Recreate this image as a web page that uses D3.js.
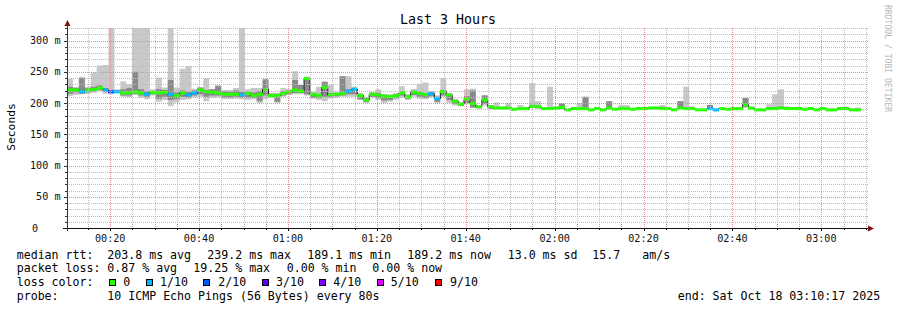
<!DOCTYPE html>
<html><head><meta charset="utf-8">
<script src="https://cdn.jsdelivr.net/npm/d3@7"></script>
<style>
html,body{margin:0;padding:0;background:#fff;}
svg{display:block;font-family:"DejaVu Sans Mono",monospace;}
text{white-space:pre;}
</style></head><body>
<svg id="chart" width="897" height="310"></svg>
<script>
// ---- data (ms), one entry per 80 s step ----
const median=[221,221,218,221,222,224,221,218,218,216,
 216,218,216,214,217,216,217,214,212,216,
 213,216,221,218,217,216,214,214,214,213,
 215,212,214,222,212,212,215,218,221,219,
 239,214,212,225,213,214,215,219,222,212,
 205,214,213,211,210,212,216,210,217,215,
 213,215,207,218,213,203,198,206,199,194,
 205,194,192,192,192,190,191,191,195,194,
 191,191,192,193,189,191,191,191,189,191,
 189,192,190,191,191,190,191,191,192,192,
 191,191,189,192,191,191,189,189,191,189,
 191,190,191,191,197,192,189,189,191,191,
 192,191,191,191,190,191,189,191,189,189,
 191,191,189,189];
const lossIdx=[0,0,1,0,0,0,1,2,1,0,
 0,0,0,1,0,0,0,1,0,0,
 1,1,0,0,0,0,0,0,0,1,
 0,0,0,0,0,0,0,0,0,0,
 0,0,0,0,0,0,0,1,1,0,
 0,0,0,0,0,0,0,0,0,0,
 0,1,1,0,0,0,0,0,0,0,
 0,0,0,0,0,0,0,0,0,0,
 0,0,0,0,0,0,0,0,0,0,
 0,0,0,0,0,0,0,0,0,0,
 0,0,0,0,0,0,0,0,1,1,
 0,0,0,0,0,0,0,0,0,0,
 0,0,0,0,0,0,0,0,0,0,
 0,0,0,0];
const pingMax=[239,226,242,226,249,260,261,320,222,235,
 230,320,320,320,222,241,225,320,225,255,
 259,223,225,240,222,229,221,221,224,320,
 222,224,224,229,216,216,224,222,251,229,
 242,218,226,234,229,218,243,243,226,216,
 210,218,222,215,214,216,227,214,222,231,
 233,219,212,240,216,207,202,222,223,196,
 213,196,201,194,200,192,197,193,232,203,
 193,226,194,200,191,193,200,210,191,193,
 191,203,192,197,197,192,193,193,194,194,
 197,193,191,203,226,195,191,191,197,191,
 193,192,193,193,208,194,191,191,198,214,
 222,195,193,194,192,193,191,193,191,191,
 194,194,191,193];
const pingMin=[211,213,214,215,216,219,215,214,216,210,
 209,213,208,206,212,202,205,195,201,205,
 206,209,210,203,208,209,206,206,207,206,
 205,206,200,206,208,200,210,213,214,214,
 212,207,205,203,207,208,210,210,210,205,
 200,208,205,200,202,205,208,205,210,207,
 206,209,200,210,200,196,195,199,192,191,
 196,190,190,190,190,188,189,189,192,191,
 189,189,190,190,188,189,189,189,188,189,
 188,190,189,189,189,188,189,189,190,190,
 189,189,188,190,189,189,188,188,189,188,
 189,189,189,189,192,190,188,188,189,189,
 190,189,189,189,189,189,188,189,188,188,
 189,189,188,188];
const midHi=[226,224,240,224,226,228,224,221,220,222,
 224,250,222,219,219,222,221,237,217,220,
 218,220,225,221,222,227,219,218,220,218,
 218,217,219,238,215,215,219,221,237,229,
 241,216,215,234,216,216,243,222,224,215,
 208,216,216,213,212,214,219,212,220,218,
 216,218,210,221,215,205,200,211,220,195,
 212,195,193,193,193,191,192,192,197,195,
 192,192,193,199,190,192,192,210,190,192,
 190,203,191,192,192,191,192,192,193,193,
 192,192,190,203,193,192,190,190,197,190,
 192,191,192,192,208,193,190,190,192,193,
 194,192,192,192,191,192,190,192,190,190,
 192,192,190,190];
const midLo=[215,217,215,217,219,221,218,216,217,212,
 212,215,212,210,214,207,210,205,206,210,
 209,212,214,210,212,212,209,209,210,209,
 209,208,203,212,210,202,212,215,216,216,
 214,209,208,210,210,211,212,214,214,206,
 202,210,208,204,205,208,212,207,213,210,
 208,211,202,212,205,199,196,200,193,192,
 199,191,191,191,191,189,190,190,193,192,
 190,190,191,191,188,190,190,190,188,190,
 188,191,189,190,190,189,190,190,191,191,
 190,190,188,191,190,190,188,188,190,188,
 190,189,190,190,194,191,188,188,190,190,
 191,190,190,190,189,190,188,190,188,188,
 190,190,188,188];
const yTicks=[0,50,100,150,200,250,300];
const yTickLabels=["0","50 m","100 m","150 m","200 m","250 m","300 m"];
const lossColors=["#26ff00","#00b8ff","#0059ff","#5e00ff","#7e00ff","#dd00ff","#ff0000"];
const lossLabels=["0","1/10","2/10","3/10","4/10","5/10","9/10"];
const stepSec=80;
const startTime=new Date(Date.UTC(2025,9,18,0,10,17));
const endTime=new Date(Date.UTC(2025,9,18,3,10,17));

const legendRtt=[["median rtt:",16.7],["203.8 ms avg",107.3],["239.2 ms max",207.3],["189.1 ms min",307.3],["189.2 ms now",407.3],["13.0 ms sd",507.7],["15.7",592.3],["am/s",642.3]];
const legendLoss=[["packet loss:",16.7],["0.87 % avg",107.3],["19.25 % max",193.3],["0.00 % min",286.7],["0.00 % now",372.3]];
const lossBoxX=[109,146,203.3,261.7,319,376.7,435];
const lossTextX=[123.3,160,218.3,276,333.3,390.7,450];

// ---- drawing ----
const W=897,H=310, L=67, R=867, T=28, B=228;
const svg=d3.select("#chart");
svg.append("rect").attr("width",W).attr("height",H).attr("fill","#fff");
const x=d3.scaleUtc().domain([startTime,endTime]).range([L,R]);
const y=d3.scaleLinear().domain([0,320]).range([B,T]);
const n=median.length;
const xs=i=>x(new Date(startTime.getTime()+i*stepSec*1000));
const idx=d3.range(n+1);
const at=(a,i)=>a[Math.min(i,n-1)];

svg.append("defs").append("clipPath").attr("id","plot")
  .append("rect").attr("x",L).attr("y",T).attr("width",R-L).attr("height",B-T);
const g=svg.append("g").attr("clip-path","url(#plot)");

const band=(hi,lo)=>d3.area().curve(d3.curveStepAfter)
  .x(i=>xs(i)).y0(i=>y(at(lo,i))).y1(i=>y(Math.min(320,at(hi,i))));
g.append("path").datum(idx).attr("d",band(pingMax,pingMin)).attr("fill","#c8c8c8");
g.append("path").datum(idx).attr("d",band(midHi,midLo)).attr("fill","#8a8a8a");

g.append("path").datum(idx)
  .attr("d",d3.line().curve(d3.curveStepAfter).x(i=>xs(i)).y(i=>y(at(median,i))))
  .attr("fill","none").attr("stroke","#202020").attr("stroke-width",1);
g.selectAll("rect.med").data(median).enter().append("rect").attr("class","med")
  .attr("x",(d,i)=>Math.round(xs(i)))
  .attr("width",(d,i)=>Math.round(xs(i+1))-Math.round(xs(i)))
  .attr("y",d=>y(d)-1.5).attr("height",3)
  .attr("fill",(d,i)=>lossColors[lossIdx[i]]);

// grid (drawn over data, like rrdtool): dotted lines built from 1x1 pixel squares
const grid=svg.append("g").attr("shape-rendering","crispEdges");
const minorY=d3.range(10,321,10).filter(v=>v%50!==0);
const majorY=yTicks.filter(v=>v>0);
const allX=d3.utcMinute.every(5).range(startTime,endTime);
const minorX=allX.filter(t=>t.getUTCMinutes()%20!==0);
const majorX=allX.filter(t=>t.getUTCMinutes()%20===0);
const py=v=>Math.round(y(v)), pxr=t=>Math.round(x(t));
function hdots(v){const yy=py(v);return d3.range(L,R+1,2).map(xx=>`M${xx},${yy}h1v1h-1z`).join("");}
function vdots(t){const xx=pxr(t);return d3.range(T,B,2).map(yy=>`M${xx},${yy}h1v1h-1z`).join("");}
grid.append("path").attr("d",minorY.map(hdots).join("")+minorX.map(vdots).join("")).attr("fill","#bdbdbd");
grid.append("path").attr("d",majorY.map(hdots).join("")+majorX.map(vdots).join("")).attr("fill","#f08a8a");

// axes
const ax=svg.append("g").attr("shape-rendering","crispEdges");
ax.append("line").attr("x1",63).attr("x2",869).attr("y1",B+0.5).attr("y2",B+0.5).attr("stroke","#111");
ax.append("line").attr("x1",L+0.5).attr("x2",L+0.5).attr("y1",B+3).attr("y2",23).attr("stroke","#333");
majorX.forEach(t=>ax.append("line").attr("x1",pxr(t)+0.5).attr("x2",pxr(t)+0.5).attr("y1",B).attr("y2",B+3).attr("stroke","#111"));
minorX.forEach(t=>ax.append("line").attr("x1",pxr(t)+0.5).attr("x2",pxr(t)+0.5).attr("y1",B).attr("y2",B+2).attr("stroke","#111"));
majorY.forEach(v=>ax.append("line").attr("x1",L-3).attr("x2",L).attr("y1",py(v)+0.5).attr("y2",py(v)+0.5).attr("stroke","#333"));
minorY.forEach(v=>ax.append("line").attr("x1",L-2).attr("x2",L).attr("y1",py(v)+0.5).attr("y2",py(v)+0.5).attr("stroke","#333"));
svg.append("path").attr("d",`M${L-2.5},26 L${L+3.5},26 L${L+0.5},20 Z`).attr("fill","#7f1212");
svg.append("path").attr("d",`M868,225.5 L868,231.5 L874,228.5 Z`).attr("fill","#7f1212");

// tick labels
svg.append("g").selectAll("text").data(yTicks).enter().append("text")
  .attr("x",(d,i)=>d===0?32:60.5).attr("y",d=>y(d)+3.6)
  .attr("text-anchor",d=>d===0?"start":"end")
  .attr("font-size","10.15px").attr("fill","#111")
  .text((d,i)=>yTickLabels[i]);
svg.append("g").selectAll("text").data(majorX).enter().append("text")
  .attr("x",t=>x(t)).attr("y",241.8).attr("text-anchor","middle")
  .attr("font-size","10.15px").attr("fill","#111")
  .text(d3.utcFormat("%H:%M"));

// titles
svg.append("text").attr("x",448).attr("y",23.5).attr("text-anchor","middle")
  .attr("font-size","13.3px").attr("fill","#000").text("Last 3 Hours");
svg.append("text").attr("transform","translate(15,127) rotate(-90)").attr("text-anchor","middle")
  .attr("font-size","11.3px").attr("fill","#000").text("Seconds");
svg.append("text").attr("transform","translate(885,5) rotate(90)")
  .attr("font-size","8.1px").attr("fill","#b8b8b8").text("RRDTOOL / TOBI OETIKER");

// legend
const lg=svg.append("g").attr("font-size","11.6px").attr("fill","#000");
legendRtt.forEach(([s,xx])=>lg.append("text").attr("x",xx).attr("y",258.5).text(s));
legendLoss.forEach(([s,xx])=>lg.append("text").attr("x",xx).attr("y",272).text(s));
lg.append("text").attr("x",16.7).attr("y",286).text("loss color:");
lossColors.forEach((c,i)=>{
  lg.append("rect").attr("x",Math.round(lossBoxX[i])+0.5).attr("y",279.5).attr("width",6).attr("height",6)
    .attr("fill",c).attr("stroke","#000").attr("stroke-width",1);
  lg.append("text").attr("x",lossTextX[i]).attr("y",286).text(lossLabels[i]);
});
lg.append("text").attr("x",16.7).attr("y",300).text("probe:");
lg.append("text").attr("x",107.3).attr("y",300).text("10 ICMP Echo Pings (56 Bytes) every 80s");
lg.append("text").attr("x",677.7).attr("y",300).text("end: Sat Oct 18 03:10:17 2025");
</script>
</body></html>
